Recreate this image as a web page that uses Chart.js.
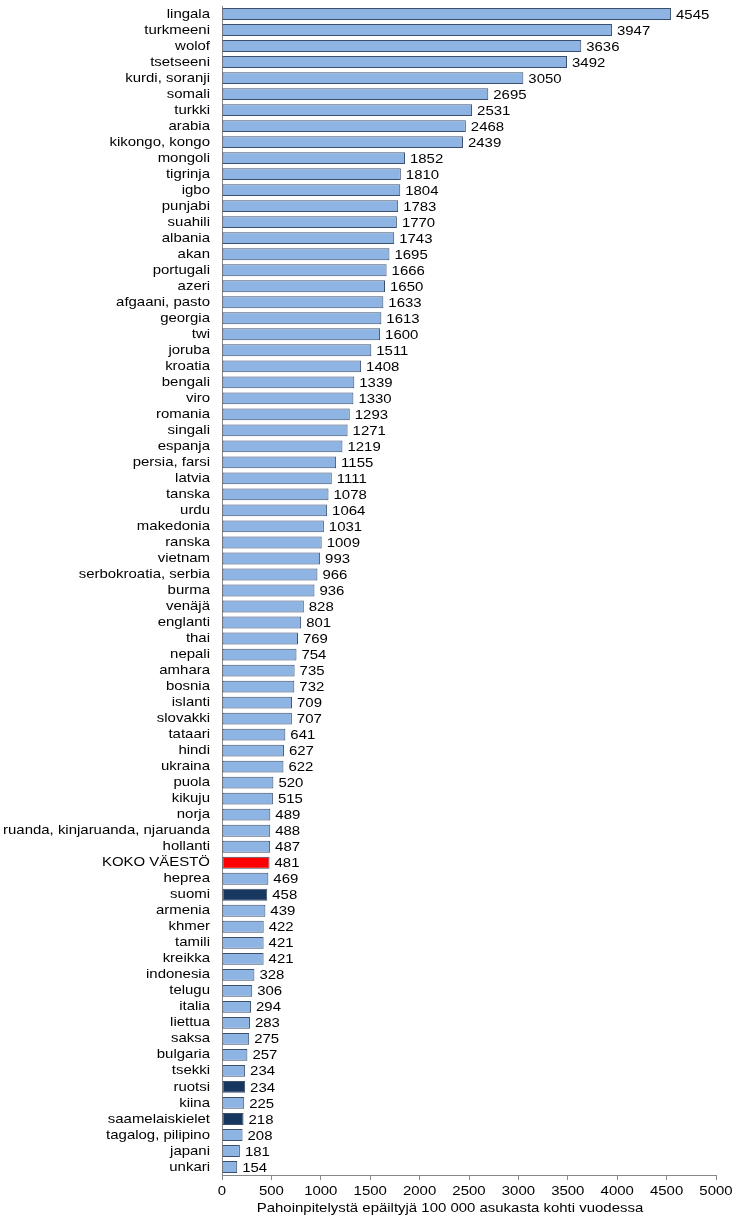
<!DOCTYPE html>
<html>
<head>
<meta charset="utf-8">
<script src="https://cdn.jsdelivr.net/npm/chart.js@4"></script>
<style>
	html, body { margin: 0; padding: 0; background: #fff; }
	#wrap { width: 739px; height: 1219px; }
</style>
</head>
<body>
<div id="wrap"><canvas id="myChart" width="739" height="1219"></canvas></div>
<script>
const languages = [
	"lingala", "turkmeeni", "wolof", "tsetseeni", "kurdi, soranji", "somali", "turkki", "arabia",
	"kikongo, kongo", "mongoli", "tigrinja", "igbo", "punjabi", "suahili", "albania", "akan",
	"portugali", "azeri", "afgaani, pasto", "georgia", "twi", "joruba", "kroatia", "bengali",
	"viro", "romania", "singali", "espanja", "persia, farsi", "latvia", "tanska", "urdu",
	"makedonia", "ranska", "vietnam", "serbokroatia, serbia", "burma", "venäjä", "englanti", "thai",
	"nepali", "amhara", "bosnia", "islanti", "slovakki", "tataari", "hindi", "ukraina",
	"puola", "kikuju", "norja", "ruanda, kinjaruanda, njaruanda", "hollanti", "KOKO VÄESTÖ", "heprea", "suomi",
	"armenia", "khmer", "tamili", "kreikka", "indonesia", "telugu", "italia", "liettua",
	"saksa", "bulgaria", "tsekki", "ruotsi", "kiina", "saamelaiskielet", "tagalog, pilipino", "japani",
	"unkari"
];

const rates = [
	4545, 3947, 3636, 3492, 3050, 2695, 2531, 2468,
	2439, 1852, 1810, 1804, 1783, 1770, 1743, 1695,
	1666, 1650, 1633, 1613, 1600, 1511, 1408, 1339,
	1330, 1293, 1271, 1219, 1155, 1111, 1078, 1064,
	1031, 1009, 993, 966, 936, 828, 801, 769,
	754, 735, 732, 709, 707, 641, 627, 622,
	520, 515, 489, 488, 487, 481, 469, 458,
	439, 422, 421, 421, 328, 306, 294, 283,
	275, 257, 234, 234, 225, 218, 208, 181,
	154
];

const xTicks = [0, 500, 1000, 1500, 2000, 2500, 3000, 3500, 4000, 4500, 5000];
const xTitle = "Pahoinpitelystä epäiltyjä 100 000 asukasta kohti vuodessa";

const totalLabel = "KOKO VÄESTÖ";
const nationalLangs = ["suomi", "ruotsi", "saamelaiskielet"];

const barColors = languages.map((l) => {
	if (l === totalLabel) return "#ff0000";
	if (nationalLangs.includes(l)) return "#17375e";
	return "#8db4e2";
});

const FONT = "Arial, 'Liberation Sans', sans-serif";
const STRETCH = 1.15; // the original text is a bit wider than plain Arial

function drawText(ctx, text, x, y, align) {
	ctx.save();
	ctx.translate(x, y);
	ctx.scale(STRETCH, 1);
	ctx.textAlign = align;
	ctx.fillText(text, 0, 0);
	ctx.restore();
}

// all text drawn here: category names, values, x ticks, x title
const textLayer = {
	id: "textLayer",
	afterDraw(chart) {
		const ctx = chart.ctx;
		const meta = chart.getDatasetMeta(0);
		const xs = chart.scales.x;
		const ys = chart.scales.y;
		ctx.save();
		ctx.font = "13px " + FONT;
		ctx.fillStyle = "#000";
		ctx.textBaseline = "middle";
		meta.data.forEach((bar, i) => {
			drawText(ctx, String(rates[i]), bar.x + 5, bar.y + 1, "left");
			drawText(ctx, languages[i], ys.right - 12, bar.y, "right");
		});
		xTicks.forEach((t) => {
			drawText(ctx, String(t), xs.getPixelForValue(t), xs.top + 16, "center");
		});
		drawText(ctx, xTitle, 450, xs.top + 33, "center");
		ctx.restore();
	},
};

const ctx = document.getElementById("myChart").getContext("2d");

const myChart = new Chart(ctx, {
	type: "bar",
	data: {
		labels: languages,
		datasets: [
			{
				data: rates,
				backgroundColor: barColors,
				borderColor: "#3b4e6b",
				borderWidth: 1,
				borderSkipped: false,
				barPercentage: 0.74,
				categoryPercentage: 1,
			},
		],
	},
	options: {
		indexAxis: "y",
		responsive: false,
		animation: false,
		devicePixelRatio: 1,
		layout: { padding: { top: 6, right: 23, left: 0, bottom: 0 } },
		plugins: {
			legend: { display: false },
			tooltip: { enabled: false },
		},
		scales: {
			x: {
				min: 0,
				max: 5000,
				ticks: {
					stepSize: 500,
					color: "rgba(0,0,0,0)",
					font: { family: FONT, size: 13 },
					padding: 2,
					maxRotation: 0,
				},
				grid: {
					drawOnChartArea: false,
					drawTicks: true,
					tickLength: 5,
					color: "#888",
				},
				border: { color: "#888" },
				afterFit(scale) {
					scale.height = 44;
				},
			},
			y: {
				ticks: {
					color: "rgba(0,0,0,0)",
					font: { family: FONT, size: 13 },
					padding: 9,
					autoSkip: false,
				},
				grid: { display: false, drawTicks: false },
				border: { display: true, color: "#888" },
				afterFit(scale) {
					scale.width = 222;
					scale.paddingTop = 0;
					scale.paddingBottom = 0;
				},
			},
		},
	},
	plugins: [textLayer],
});
</script>
</body>
</html>
